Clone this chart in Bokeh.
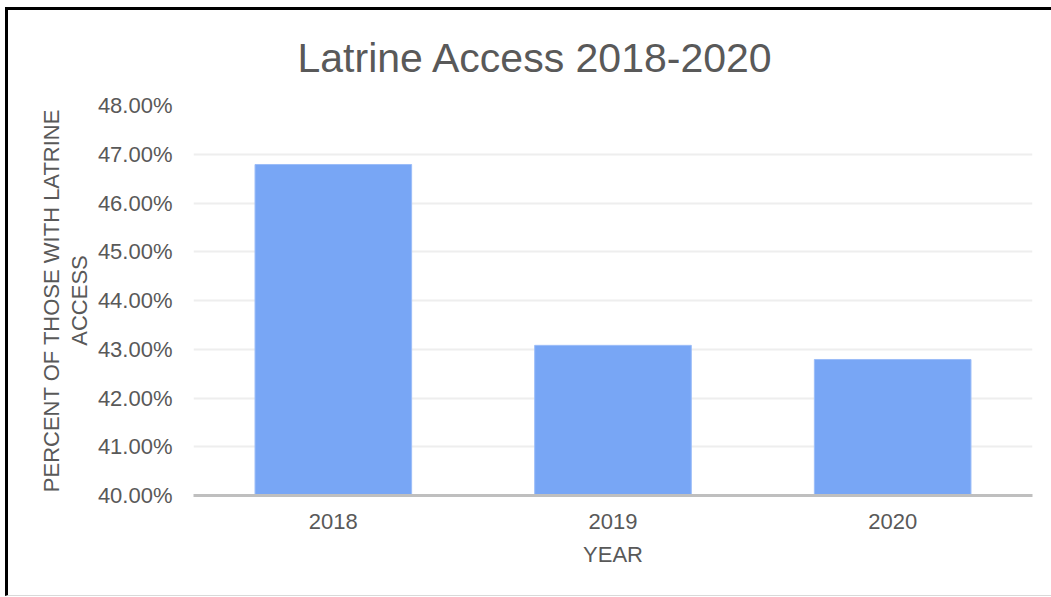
from bokeh.plotting import figure
from bokeh.models import PrintfTickFormatter, FixedTicker, Range1d, Title
from bokeh.embed import file_html
from bokeh.resources import INLINE

years = ["2018", "2019", "2020"]
latrine_access_pct = [46.79, 43.08, 42.79]
y_ticks = [40, 41, 42, 43, 44, 45, 46, 47, 48]

TEXT = "#595959"
FONT = "Liberation Sans"

p = figure(
    x_range=years,
    y_range=Range1d(40, 48),
    frame_width=839, frame_height=390,
    min_border_left=185, min_border_right=19,
    min_border_top=95, min_border_bottom=100,
    output_backend="svg", toolbar_location=None,
    title=None,
)
p.styles = {"border-top": "3px solid black", "border-left": "3px solid black",
            "border-bottom": "1px solid #d9d9d9",
            "margin-left": "5px", "margin-top": "7px"}

p.vbar(x=years, top=latrine_access_pct, bottom=40, width=0.56,
       fill_color="#78a6f5", line_color="#9cbdf8", line_width=1)

p.outline_line_color = None
p.background_fill_color = "white"
p.border_fill_color = "white"

p.xgrid.grid_line_color = None
p.ygrid.grid_line_color = "#eeeeee"
p.ygrid.grid_line_width = 2

p.yaxis.ticker = FixedTicker(ticks=y_ticks)
p.yaxis.formatter = PrintfTickFormatter(format="%.2f%%")
p.yaxis.axis_line_color = None
p.yaxis.major_tick_line_color = None
p.yaxis.minor_tick_line_color = None
p.yaxis.major_label_standoff = 15
p.yaxis.axis_label = "PERCENT OF THOSE WITH LATRINE\nACCESS"
p.yaxis.axis_label_standoff = 3
p.yaxis.axis_label_text_line_height = 1.1

p.xaxis.axis_line_color = "#bfbfbf"
p.xaxis.axis_line_width = 3
p.xaxis.major_tick_line_color = None
p.xaxis.minor_tick_line_color = None
p.xaxis.major_label_standoff = 12
p.xaxis.axis_label = "YEAR"
p.xaxis.axis_label_standoff = 10

for ax in (p.xaxis, p.yaxis):
    ax.major_label_text_font = FONT
    ax.major_label_text_font_size = "22px"
    ax.major_label_text_color = TEXT
    ax.axis_label_text_font = FONT
    ax.axis_label_text_font_size = "22px"
    ax.axis_label_text_font_style = "normal"
    ax.axis_label_text_color = TEXT

title = Title(text="Latrine Access 2018-2020", align="left", offset=104,
              standoff=46, vertical_align="top",
              text_font=FONT, text_font_size="41px",
              text_font_style="normal", text_color=TEXT)
p.add_layout(title, "above")

open("out.html", "w").write(file_html(p, INLINE))
